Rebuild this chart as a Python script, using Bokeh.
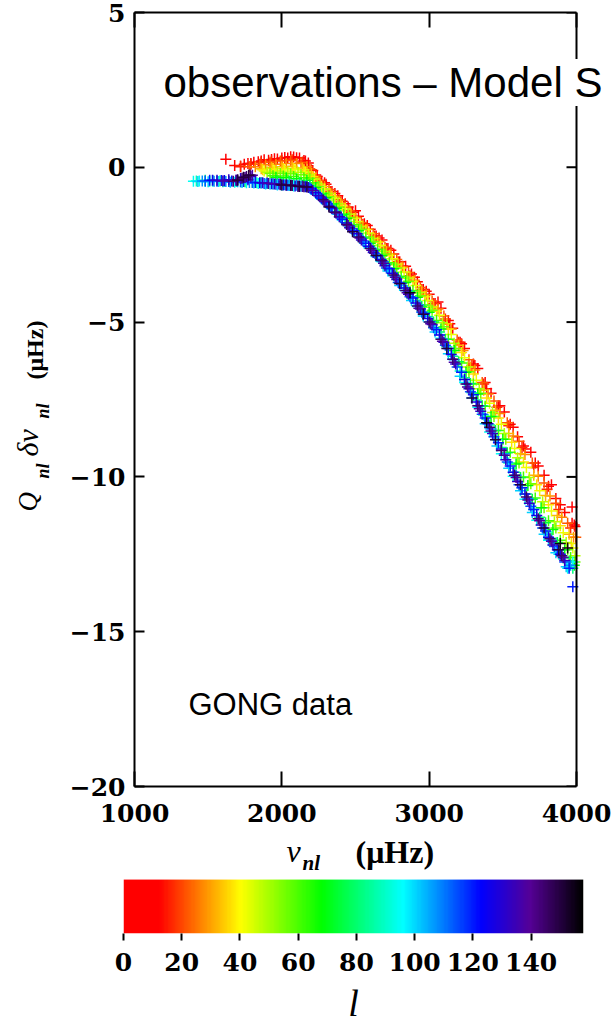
import numpy as np
from bokeh.plotting import figure
from bokeh.models import (ColumnDataSource, LinearColorMapper, Label, LinearAxis,
                          FixedTicker, Range1d, Span)
from bokeh.layouts import column, row
from bokeh.embed import file_html
from bokeh.resources import INLINE

# ---------------- data ----------------
X_TICKS = [1000, 2000, 3000, 4000]
Y_TICKS = [5, 0, -5, -10, -15, -20]
CB_TICKS = [0, 20, 40, 60, 80, 100, 120, 140]
L_MAX = 158

nu_l3 = [1620, 1720, 1790, 1860, 1930, 2000, 2060, 2120, 2180, 2240, 2300, 2380, 2450, 2520, 2600, 2680,
         2760, 2840, 2920, 3000, 3080, 3160, 3240, 3330, 3420, 3510, 3600, 3690, 3780, 3860, 3970, 3990]
dnu_l3 = [0.26, 0.02, 0.12, 0.20, 0.25, 0.30, 0.34, 0.30, 0.14, -0.30, -0.55, -0.92, -1.28, -1.58, -2.00, -2.35,
          -2.80, -3.20, -3.70, -4.10, -4.55, -5.20, -5.85, -6.50, -7.30, -7.90, -8.70, -9.20, -9.95, -10.70, -10.97, -11.60]

nu_l8 = [1680, 1770, 1840, 1910, 1970, 2040, 2100, 2160, 2230, 2290, 2360, 2430, 2500, 2580, 2660, 2740,
         2820, 2900, 2980, 3060, 3140, 3220, 3310, 3390, 3480, 3570, 3650, 3740, 3830, 3920, 3985]
dnu_l8 = [0.06, 0.12, 0.18, 0.23, 0.27, 0.30, 0.31, 0.20, -0.25, -0.50, -0.85, -1.18, -1.40, -1.88, -2.28, -2.68,
          -3.20, -3.55, -4.00, -4.35, -5.05, -5.70, -6.40, -7.15, -7.70, -8.40, -9.10, -9.65, -10.25, -11.15, -11.55]

nu_l12 = [1745, 1810, 1880, 1950, 2020, 2080, 2150, 2210, 2270, 2340, 2410, 2480, 2560, 2640, 2720, 2800,
          2880, 2960, 3040, 3130, 3210, 3300, 3380, 3470, 3550, 3640, 3720, 3810, 3890, 3970]
dnu_l12 = [0.10, 0.16, 0.24, 0.28, 0.32, 0.33, 0.22, -0.10, -0.45, -0.78, -1.10, -1.45, -1.82, -2.22, -2.62, -3.05,
           -3.45, -3.95, -4.40, -4.95, -5.65, -6.35, -6.95, -7.70, -8.30, -9.00, -9.55, -10.30, -10.90, -11.50]

nu_l17 = [1720, 1790, 1860, 1930, 2000, 2070, 2140, 2200, 2260, 2330, 2400, 2470, 2550, 2630, 2710, 2790,
          2870, 2950, 3030, 3110, 3200, 3290, 3370, 3460, 3540, 3630, 3710, 3800, 3880, 3960]
dnu_l17 = [0.04, 0.10, 0.16, 0.20, 0.22, 0.24, 0.17, -0.08, -0.48, -0.78, -1.12, -1.45, -1.85, -2.22, -2.62, -3.05,
           -3.50, -3.95, -4.40, -4.90, -5.65, -6.40, -7.00, -7.75, -8.35, -9.05, -9.70, -10.40, -11.05, -11.65]

nu_l22 = [1780, 1850, 1920, 1990, 2060, 2130, 2190, 2250, 2320, 2390, 2460, 2540, 2620, 2700, 2780, 2860,
          2940, 3020, 3100, 3190, 3270, 3360, 3440, 3530, 3610, 3700, 3780, 3860, 3940, 3995]
dnu_l22 = [0.02, 0.10, 0.16, 0.20, 0.22, 0.15, -0.05, -0.42, -0.72, -1.05, -1.40, -1.78, -2.15, -2.58, -2.98, -3.40,
           -3.88, -4.32, -4.80, -5.58, -6.22, -6.95, -7.55, -8.25, -8.85, -9.55, -10.20, -10.85, -11.50, -11.95]

nu_l27 = [1820, 1890, 1960, 2030, 2100, 2170, 2230, 2290, 2360, 2430, 2500, 2580, 2660, 2740, 2820, 2900,
          2980, 3060, 3150, 3230, 3310, 3400, 3480, 3570, 3650, 3740, 3820, 3900, 3980]
dnu_l27 = [0.02, 0.08, 0.10, 0.12, 0.12, 0.02, -0.32, -0.62, -0.95, -1.28, -1.62, -2.00, -2.40, -2.80, -3.22, -3.65,
           -4.12, -4.58, -5.22, -5.92, -6.55, -7.32, -7.95, -8.68, -9.28, -9.98, -10.62, -11.30, -11.95]

nu_l32 = [1860, 1930, 2000, 2070, 2140, 2200, 2260, 2330, 2400, 2470, 2550, 2630, 2710, 2790, 2870, 2950,
          3030, 3120, 3200, 3280, 3370, 3450, 3540, 3620, 3710, 3790, 3870, 3950]
dnu_l32 = [-0.05, 0.00, 0.02, 0.03, -0.02, -0.20, -0.55, -0.85, -1.18, -1.52, -1.90, -2.30, -2.72, -3.12, -3.55, -4.02,
           -4.50, -5.05, -5.75, -6.45, -7.20, -7.85, -8.60, -9.25, -9.95, -10.60, -11.25, -11.85]

nu_l37 = [1870, 1940, 2010, 2080, 2150, 2210, 2270, 2340, 2410, 2490, 2570, 2650, 2730, 2810, 2890, 2970,
          3050, 3130, 3220, 3300, 3390, 3470, 3560, 3640, 3730, 3810, 3890, 3965]
dnu_l37 = [-0.08, -0.05, -0.04, -0.03, -0.08, -0.30, -0.62, -0.93, -1.25, -1.65, -2.02, -2.42, -2.85, -3.25, -3.70, -4.18,
           -4.65, -5.22, -5.98, -6.68, -7.45, -8.10, -8.88, -9.52, -10.25, -10.90, -11.58, -12.15]

nu_l42 = [1880, 1950, 2020, 2090, 2160, 2220, 2290, 2360, 2430, 2510, 2590, 2670, 2750, 2830, 2910, 2990,
          3070, 3150, 3240, 3320, 3410, 3490, 3580, 3660, 3750, 3830, 3910, 3975]
dnu_l42 = [-0.12, -0.10, -0.09, -0.08, -0.15, -0.38, -0.70, -1.00, -1.35, -1.75, -2.12, -2.52, -2.95, -3.38, -3.82, -4.30,
           -4.78, -5.40, -6.15, -6.88, -7.62, -8.30, -9.08, -9.70, -10.45, -11.10, -11.80, -12.30]

nu_l48 = [1900, 1970, 2040, 2110, 2180, 2240, 2310, 2380, 2450, 2530, 2610, 2690, 2770, 2850, 2930, 3010,
          3090, 3170, 3260, 3340, 3430, 3510, 3600, 3680, 3770, 3850, 3930, 3990]
dnu_l48 = [-0.16, -0.15, -0.15, -0.16, -0.25, -0.52, -0.85, -1.18, -1.52, -1.92, -2.30, -2.72, -3.15, -3.58, -4.05, -4.52,
           -5.02, -5.68, -6.45, -7.15, -7.92, -8.60, -9.38, -10.02, -10.80, -11.45, -12.12, -12.55]

nu_l55 = [1920, 1990, 2060, 2130, 2190, 2250, 2320, 2390, 2460, 2540, 2620, 2700, 2780, 2860, 2940, 3020,
          3100, 3180, 3270, 3350, 3440, 3520, 3610, 3690, 3780, 3860, 3940, 3990]
dnu_l55 = [-0.20, -0.20, -0.21, -0.24, -0.35, -0.62, -0.95, -1.28, -1.62, -2.00, -2.40, -2.80, -3.25, -3.68, -4.15, -4.62,
           -5.15, -5.85, -6.60, -7.30, -8.05, -8.78, -9.55, -10.22, -11.00, -11.65, -12.35, -12.75]

nu_l61 = [1940, 2010, 2080, 2150, 2210, 2280, 2350, 2420, 2490, 2570, 2650, 2730, 2810, 2890, 2970, 3050,
          3130, 3220, 3300, 3380, 3470, 3550, 3640, 3720, 3810, 3890, 3960]
dnu_l61 = [-0.27, -0.28, -0.30, -0.34, -0.50, -0.85, -1.18, -1.52, -1.85, -2.25, -2.65, -3.08, -3.52, -3.98, -4.45, -4.95,
           -5.55, -6.32, -7.00, -7.72, -8.50, -9.20, -10.00, -10.68, -11.42, -12.05, -12.60]

nu_l68 = [1960, 2030, 2100, 2170, 2230, 2300, 2370, 2440, 2520, 2600, 2680, 2760, 2840, 2920, 3000, 3080,
          3170, 3250, 3330, 3420, 3500, 3590, 3670, 3760, 3840, 3920, 3985]
dnu_l68 = [-0.32, -0.34, -0.37, -0.42, -0.65, -0.98, -1.32, -1.65, -2.05, -2.45, -2.85, -3.28, -3.72, -4.20, -4.68, -5.22,
           -5.92, -6.62, -7.32, -8.05, -8.78, -9.58, -10.28, -11.00, -11.70, -12.35, -12.85]

nu_l75 = [1530, 1640, 1750, 1860, 1970, 2050, 2120, 2190, 2260, 2330, 2400, 2470, 2550, 2630, 2710, 2790,
          2870, 2950, 3030, 3110, 3200, 3280, 3360, 3450, 3530, 3620, 3700, 3790, 3870, 3950]
dnu_l75 = [-0.43, -0.45, -0.47, -0.50, -0.47, -0.45, -0.48, -0.58, -0.88, -1.22, -1.55, -1.90, -2.28, -2.68, -3.12, -3.55,
           -4.02, -4.50, -5.00, -5.55, -6.28, -6.98, -7.70, -8.50, -9.22, -10.02, -10.72, -11.48, -12.12, -12.72]

nu_l82 = [1480, 1580, 1690, 1800, 1900, 2000, 2080, 2160, 2220, 2290, 2360, 2430, 2510, 2590, 2670, 2750,
          2830, 2910, 2990, 3070, 3160, 3240, 3320, 3410, 3490, 3580, 3660, 3750, 3830, 3910, 3975]
dnu_l82 = [-0.42, -0.44, -0.46, -0.48, -0.52, -0.52, -0.55, -0.58, -0.75, -1.08, -1.42, -1.78, -2.15, -2.55, -2.98, -3.42,
           -3.88, -4.32, -4.82, -5.32, -6.10, -6.80, -7.52, -8.32, -9.05, -9.85, -10.55, -11.30, -11.98, -12.62, -12.95]

nu_l88 = [1420, 1510, 1610, 1720, 1830, 1940, 2040, 2120, 2190, 2260, 2330, 2400, 2480, 2560, 2640, 2720,
          2800, 2880, 2960, 3040, 3120, 3210, 3290, 3370, 3460, 3540, 3630, 3710, 3800, 3880, 3950]
dnu_l88 = [-0.44, -0.45, -0.46, -0.47, -0.50, -0.53, -0.56, -0.58, -0.66, -0.95, -1.28, -1.62, -2.02, -2.42, -2.85, -3.30,
           -3.75, -4.22, -4.72, -5.22, -5.80, -6.58, -7.28, -8.00, -8.80, -9.55, -10.35, -11.05, -11.78, -12.38, -12.90]

nu_l95 = [1400, 1440, 1480, 1530, 1600, 1680, 1760, 1840, 1920, 2000, 2080, 2160, 2230, 2300, 2370, 2440,
          2520, 2600, 2680, 2760, 2840, 2920, 3000, 3080, 3160, 3240, 3330, 3410, 3490, 3570, 3650, 3730,
          3810, 3880, 3940, 3975]
dnu_l95 = [-0.45, -0.44, -0.46, -0.45, -0.47, -0.48, -0.50, -0.52, -0.55, -0.58, -0.60, -0.62, -0.85, -1.15, -1.48, -1.82,
           -2.22, -2.60, -3.05, -3.50, -3.98, -4.50, -5.00, -5.52, -6.20, -6.95, -7.75, -8.55, -9.25, -9.98, -10.72, -11.40,
           -12.05, -12.50, -12.95, -12.75]

nu_l101 = [1430, 1500, 1570, 1650, 1730, 1810, 1890, 1970, 2050, 2130, 2200, 2270, 2340, 2410, 2480, 2560,
           2640, 2720, 2800, 2880, 2960, 3040, 3130, 3210, 3290, 3380, 3460, 3540, 3620, 3700, 3780, 3860, 3930]
dnu_l101 = [-0.46, -0.47, -0.46, -0.48, -0.49, -0.51, -0.54, -0.57, -0.59, -0.61, -0.72, -1.02, -1.35, -1.70, -2.05, -2.45,
            -2.88, -3.35, -3.82, -4.30, -4.80, -5.32, -6.02, -6.75, -7.45, -8.28, -9.00, -9.72, -10.45, -11.15, -11.85, -12.45, -12.90]

nu_l108 = [1460, 1540, 1620, 1700, 1780, 1860, 1940, 2020, 2100, 2170, 2240, 2310, 2380, 2450, 2530, 2610,
           2690, 2770, 2850, 2930, 3010, 3090, 3170, 3260, 3340, 3420, 3510, 3590, 3670, 3750, 3830, 3900, 3960]
dnu_l108 = [-0.44, -0.45, -0.46, -0.47, -0.49, -0.51, -0.54, -0.56, -0.58, -0.61, -0.88, -1.18, -1.52, -1.88, -2.25, -2.62,
            -3.05, -3.50, -3.98, -4.45, -4.98, -5.55, -6.22, -7.00, -7.70, -8.45, -9.25, -9.95, -10.70, -11.40, -12.05, -12.55, -12.85]

nu_l114 = [1480, 1560, 1640, 1720, 1800, 1880, 1960, 2040, 2120, 2190, 2260, 2330, 2400, 2470, 2550, 2630,
           2710, 2790, 2870, 2950, 3030, 3110, 3190, 3280, 3360, 3440, 3530, 3610, 3690, 3770, 3850, 3920]
dnu_l114 = [-0.44, -0.45, -0.46, -0.47, -0.49, -0.52, -0.55, -0.58, -0.60, -0.67, -0.96, -1.28, -1.62, -1.98, -2.38, -2.78,
            -3.25, -3.72, -4.18, -4.68, -5.18, -5.75, -6.45, -7.25, -7.98, -8.70, -9.52, -10.25, -10.95, -11.65, -12.25, -12.75]

nu_l120 = [1510, 1590, 1660, 1740, 1820, 1900, 1980, 2060, 2140, 2200, 2270, 2340, 2410, 2490, 2570, 2650,
           2730, 2810, 2890, 2970, 3050, 3130, 3220, 3300, 3380, 3470, 3550, 3630, 3710, 3790, 3870, 3950, 3975]
dnu_l120 = [-0.42, -0.43, -0.44, -0.46, -0.49, -0.51, -0.54, -0.57, -0.60, -0.70, -1.00, -1.32, -1.68, -2.05, -2.45, -2.85,
            -3.28, -3.75, -4.22, -4.72, -5.25, -5.85, -6.62, -7.35, -8.10, -8.90, -9.65, -10.35, -11.05, -11.75, -12.35, -12.95, -13.55]

nu_l126 = [1530, 1610, 1690, 1770, 1850, 1930, 2010, 2090, 2160, 2230, 2300, 2370, 2440, 2510, 2590, 2670,
           2750, 2830, 2910, 2990, 3070, 3150, 3240, 3320, 3400, 3490, 3570, 3650, 3730, 3810, 3890]
dnu_l126 = [-0.42, -0.43, -0.42, -0.40, -0.50, -0.53, -0.57, -0.60, -0.63, -0.82, -1.12, -1.45, -1.80, -2.15, -2.55, -2.98,
            -3.42, -3.90, -4.38, -4.88, -5.42, -6.05, -6.85, -7.58, -8.28, -9.10, -9.85, -10.55, -11.25, -11.95, -12.50]

nu_l132 = [1560, 1640, 1720, 1790, 1870, 1950, 2030, 2110, 2180, 2250, 2320, 2390, 2460, 2540, 2620, 2700,
           2780, 2860, 2940, 3020, 3100, 3180, 3270, 3350, 3430, 3520, 3600, 3680, 3760, 3840, 3920]
dnu_l132 = [-0.42, -0.40, -0.36, -0.30, -0.50, -0.54, -0.58, -0.61, -0.65, -0.92, -1.25, -1.60, -1.95, -2.35, -2.75, -3.18,
            -3.62, -4.10, -4.58, -5.08, -5.65, -6.35, -7.15, -7.88, -8.60, -9.45, -10.15, -10.85, -11.55, -12.20, -12.70]

nu_l138 = [1600, 1690, 1750, 1800, 1910, 1990, 2070, 2140, 2210, 2290, 2370, 2450, 2530, 2610, 2690, 2770,
           2850, 2930, 3010, 3090, 3170, 3260, 3340, 3420, 3510, 3590, 3670, 3750, 3830, 3910]
dnu_l138 = [-0.44, -0.42, -0.33, -0.26, -0.52, -0.56, -0.59, -0.62, -0.75, -1.10, -1.48, -1.88, -2.28, -2.68, -3.10, -3.55,
            -4.05, -4.55, -5.05, -5.62, -6.30, -7.10, -7.80, -8.52, -9.30, -10.02, -10.75, -11.42, -12.08, -12.60]

nu_l145 = [1670, 1700, 1730, 1760, 1785, 1990, 2030, 2070, 2110, 2150, 2280, 2360, 2440, 2520, 2600, 2680,
           2760, 2840, 2920, 3000, 3080, 3160, 3250, 3330, 3410, 3490, 3580, 3660, 3740, 3820, 3900]
dnu_l145 = [-0.45, -0.40, -0.35, -0.30, -0.25, -0.55, -0.57, -0.59, -0.61, -0.63, -1.05, -1.45, -1.85, -2.25, -2.62, -3.02,
            -3.48, -3.98, -4.48, -5.00, -5.55, -6.20, -7.00, -7.70, -8.40, -9.15, -9.95, -10.65, -11.35, -12.00, -12.55]

nu_l150 = [1700, 1740, 1775, 2000, 2060, 2120, 2170, 2320, 2480, 2640, 2800, 2960, 3120, 3290, 3450, 3620, 3780, 3880]
dnu_l150 = [-0.42, -0.32, -0.26, -0.57, -0.59, -0.62, -0.64, -1.28, -2.08, -2.85, -3.75, -4.75, -5.85, -7.45, -8.80,
            -10.25, -11.65, -12.35]

nu_l155 = [2870, 3390, 3890, 3940]
dnu_l155 = [-4.05, -8.25, -12.15, -12.30]

groups = [(3, nu_l3, dnu_l3), (8, nu_l8, dnu_l8), (12, nu_l12, dnu_l12), (17, nu_l17, dnu_l17),
          (22, nu_l22, dnu_l22), (27, nu_l27, dnu_l27), (32, nu_l32, dnu_l32), (37, nu_l37, dnu_l37),
          (42, nu_l42, dnu_l42), (48, nu_l48, dnu_l48), (55, nu_l55, dnu_l55), (61, nu_l61, dnu_l61),
          (68, nu_l68, dnu_l68), (75, nu_l75, dnu_l75), (82, nu_l82, dnu_l82), (88, nu_l88, dnu_l88),
          (95, nu_l95, dnu_l95), (101, nu_l101, dnu_l101), (108, nu_l108, dnu_l108),
          (114, nu_l114, dnu_l114), (120, nu_l120, dnu_l120), (126, nu_l126, dnu_l126),
          (132, nu_l132, dnu_l132), (138, nu_l138, dnu_l138), (145, nu_l145, dnu_l145),
          (150, nu_l150, dnu_l150), (155, nu_l155, dnu_l155)]

nu_all, dnu_all, l_all = [], [], []
for l, nus, dnus in groups:
    assert len(nus) == len(dnus), "length mismatch for l=%d: %d vs %d" % (l, len(nus), len(dnus))
    nu_all += nus
    dnu_all += dnus
    l_all += [l] * len(nus)
src = ColumnDataSource(dict(nu=nu_all, dnu=dnu_all, l=l_all))

# ---------------- colour table ----------------
stops_l = [0, 12, 40, 68, 96, 123, 140, 158]
stops_rgb = [(255, 0, 0), (255, 0, 0), (255, 255, 0), (0, 255, 0), (0, 255, 255),
             (0, 0, 255), (85, 0, 150), (0, 0, 0)]
grid = np.linspace(0, L_MAX, 256)
chan = [np.interp(grid, stops_l, [c[i] for c in stops_rgb]) for i in range(3)]
palette = ["#%02x%02x%02x" % (int(round(r)), int(round(g)), int(round(b)))
           for r, g, b in zip(*chan)]
mapper = LinearColorMapper(palette=palette, low=0, high=L_MAX)

# ---------------- geometry ----------------
W = 614
H1 = 833                      # height of the upper row
LW = 60                       # width of the y-label strip
FL, FRV, FT, FB = 134, 576, 12, 786   # visible frame edges (pixels)
X_PER_PX = 3000.0 / (FRV - FL)
X_END = 4000 + (W - FRV) * X_PER_PX


def py2y(py):
    return 5 - (py - FT) * 25.0 / (FB - FT)


def px2x(px):
    return 1000 + (px - FL) * X_PER_PX


TICK_FONT = "DejaVu Serif"
LAB_FONT = "Liberation Serif"
INK = "black"

# ---------------- main figure ----------------
p = figure(width=W - LW, height=H1, x_range=Range1d(1000, X_END), y_range=Range1d(-20, 5),
           min_border_left=FL - LW, min_border_right=0, min_border_top=FT,
           min_border_bottom=H1 - FB, output_backend="svg", toolbar_location=None)
p.grid.visible = False
p.outline_line_color = None
p.background_fill_color = "white"
p.border_fill_color = "white"

p.scatter("nu", "dnu", source=src, marker="cross", size=11, line_width=1.5,
          color={"field": "l", "transform": mapper})

for ax in p.xaxis:
    ax.ticker = FixedTicker(ticks=X_TICKS)
    ax.bounds = (1000, 4000)
    ax.major_tick_in = 15
    ax.major_tick_out = 0
    ax.minor_tick_line_color = None
    ax.axis_line_width = 2
    ax.axis_line_color = INK
    ax.major_tick_line_width = 2
    ax.major_tick_line_color = INK
    ax.major_label_text_font = TICK_FONT
    ax.major_label_text_font_style = "bold"
    ax.major_label_text_font_size = "25px"
    ax.major_label_text_color = INK
    ax.major_label_standoff = 17
for ax in p.yaxis:
    ax.ticker = FixedTicker(ticks=Y_TICKS)
    ax.major_tick_in = 10
    ax.major_tick_out = 0
    ax.minor_tick_line_color = None
    ax.axis_line_width = 2
    ax.axis_line_color = INK
    ax.major_tick_line_width = 2
    ax.major_tick_line_color = INK
    ax.major_label_text_font = TICK_FONT
    ax.major_label_text_font_style = "bold"
    ax.major_label_text_font_size = "25px"
    ax.major_label_text_color = INK
    ax.major_label_standoff = 9
    ax.major_label_overrides = {5: "5", 0: "0", -5: "\u22125", -10: "\u221210",
                                -15: "\u221215", -20: "\u221220"}

top = LinearAxis(ticker=FixedTicker(ticks=X_TICKS), bounds=(1000, 4000), major_tick_in=15,
                 major_tick_out=0, minor_tick_line_color=None,
                 major_label_overrides={t: "" for t in X_TICKS},
                 major_label_text_font_size="1px", major_label_standoff=0,
                 axis_line_width=2, axis_line_color=INK, major_tick_line_width=2,
                 major_tick_line_color=INK)
p.add_layout(top, "above")

# right-hand frame edge with inward ticks at the y tick values
p.add_layout(Span(location=4000, dimension="height", line_color=INK, line_width=2))
p.segment(x0=[4000] * len(Y_TICKS), x1=[4000 - 10 * X_PER_PX] * len(Y_TICKS),
          y0=Y_TICKS, y1=Y_TICKS, line_color=INK, line_width=2)

p.add_layout(Label(x=px2x(163), y=py2y(82), text="observations \u2013 Model S",
                   text_font="Liberation Sans", text_font_size="42px", text_color=INK,
                   text_align="left", text_baseline="middle",
                   background_fill_color="white", background_fill_alpha=1.0))

p.add_layout(Label(x=px2x(188), y=py2y(704), text="GONG data",
                   text_font="Liberation Sans", text_font_size="31px", text_color=INK,
                   text_align="left", text_baseline="middle"))

# ---------------- y-label strip ----------------
pL = figure(width=LW, height=H1, x_range=Range1d(0, LW), y_range=Range1d(-20, 5),
            min_border_left=0, min_border_right=0, min_border_top=FT,
            min_border_bottom=H1 - FB, x_axis_type=None, y_axis_type=None,
            output_backend="svg", toolbar_location=None)
pL.grid.visible = False
pL.outline_line_color = None
ang = np.pi / 2
pL.add_layout(Label(x=27, y=py2y(511), text="Q", text_font=LAB_FONT, angle=ang, text_color=INK,
                    text_font_style="italic", text_font_size="27px", text_baseline="middle"))
pL.add_layout(Label(x=42, y=py2y(478), text="nl", text_font=LAB_FONT, angle=ang, text_color=INK,
                    text_font_style="bold italic", text_font_size="18px", text_baseline="middle"))
pL.add_layout(Label(x=27, y=py2y(456), text="\u03b4\u03bd", text_font=LAB_FONT, angle=ang,
                    text_color=INK, text_font_style="italic", text_font_size="30px",
                    text_baseline="middle"))
pL.add_layout(Label(x=42, y=py2y(418), text="nl", text_font=LAB_FONT, angle=ang, text_color=INK,
                    text_font_style="bold italic", text_font_size="18px", text_baseline="middle"))
pL.add_layout(Label(x=34, y=py2y(379), text="(\u03bcHz)", text_font=LAB_FONT, angle=ang,
                    text_color=INK, text_font_style="bold", text_font_size="24px",
                    text_baseline="middle"))

# ---------------- colour bar + x label ----------------
CB_L, CB_R, CB_T, CB_B = 123, 583, 880, 935
H2 = 1026 - H1
p2 = figure(width=W, height=H2, x_range=Range1d(0, L_MAX), y_range=Range1d(0, CB_B - H1),
            min_border_left=CB_L, min_border_right=W - CB_R, min_border_top=0,
            min_border_bottom=1026 - CB_B, output_backend="svg", toolbar_location=None)
p2.grid.visible = False
p2.outline_line_color = None
p2.yaxis.visible = False
p2.image(image=[np.linspace(0, L_MAX, 600).reshape(1, -1)], x=0, y=0, dw=L_MAX, dh=CB_B - CB_T,
         color_mapper=mapper)
ax2 = p2.xaxis[0]
ax2.ticker = FixedTicker(ticks=CB_TICKS)
ax2.axis_line_color = None
ax2.major_tick_in = 0
ax2.major_tick_out = 7
ax2.major_tick_line_width = 2
ax2.major_tick_line_color = INK
ax2.minor_tick_line_color = None
ax2.major_label_text_font = TICK_FONT
ax2.major_label_text_font_style = "bold"
ax2.major_label_text_font_size = "25px"
ax2.major_label_text_color = INK
ax2.major_label_standoff = 12
ax2.axis_label = "l"
ax2.axis_label_text_font = LAB_FONT
ax2.axis_label_text_font_style = "italic"
ax2.axis_label_text_font_size = "38px"
ax2.axis_label_text_color = INK
ax2.axis_label_standoff = 8


def lx(px):
    return (px - CB_L) * L_MAX / float(CB_R - CB_L)


def ly(py):
    return CB_B - py


p2.add_layout(Label(x=lx(286), y=ly(851), text="\u03bd", text_font=LAB_FONT, text_color=INK,
                    text_font_style="italic", text_font_size="32px", text_baseline="middle"))
p2.add_layout(Label(x=lx(302), y=ly(863), text="nl", text_font=LAB_FONT, text_color=INK,
                    text_font_style="bold italic", text_font_size="21px", text_baseline="middle"))
p2.add_layout(Label(x=lx(355), y=ly(852), text="(\u03bcHz)", text_font=LAB_FONT, text_color=INK,
                    text_font_style="bold", text_font_size="32px", text_baseline="middle"))

layout = column(row(pL, p, spacing=0), p2, spacing=0)
open("out.html", "w").write(file_html(layout, INLINE))
